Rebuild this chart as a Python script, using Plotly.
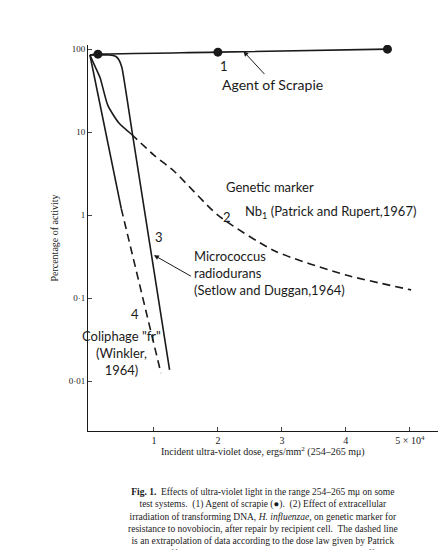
import math
import plotly.graph_objects as go

# curve 1: agent of scrapie
scrapie_x = [0, 0.125, 2.0, 4.65]
scrapie_y = [85, 87, 92, 100]
scrapie_pts_x = [0.125, 2.0, 4.65]
scrapie_pts_y = [87, 92, 100]

# curve 2: genetic marker (solid data, dashed extrapolation)
marker_x = [0, 0.08, 0.16, 0.28, 0.45, 0.645]
marker_y = [85, 62, 45, 21, 13, 9.5]
marker_ext_x = [0.645, 1.0, 1.32, 2.0, 2.89, 4.0, 5.02]
marker_ext_y = [9.5, 5.3, 3.36, 1.0, 0.37, 0.19, 0.126]

# curve 3: Micrococcus radiodurans
micro_x = [0, 0.3, 0.4, 0.45, 0.5, 0.66, 1.245]
micro_y = [85, 85, 82, 75, 60, 10, 0.0137]

# curve 4: coliphage fr
coli_x = [0, 0.49]
coli_y = [85, 1.2]
coli_ext_x = [0.49, 1.11]
coli_ext_y = [1.2, 0.0125]

tick_vals = [0.01, 0.1, 1, 10, 100]
tick_text = ["0·01", "0·1", "1", "10", "100"]
xtick_vals = [1, 2, 3, 4, 5]
xtick_text = ["1", "2", "3", "4", "5 × 10<sup>4</sup>"]

ink = "#1a1a1a"
hand = "Lato"
serif = "Liberation Serif"

fig = go.Figure()

def line(x, y, dash="solid"):
    fig.add_trace(go.Scatter(x=x, y=y, mode="lines",
                             line=dict(color=ink, width=1.6, dash=dash, shape="spline", smoothing=0.6)))

line(scrapie_x, scrapie_y)
fig.add_trace(go.Scatter(x=scrapie_pts_x, y=scrapie_pts_y, mode="markers", marker=dict(color=ink, size=9)))
line(marker_x, marker_y)
line(marker_ext_x, marker_ext_y, dash="8px,5px")
fig.add_trace(go.Scatter(x=micro_x, y=micro_y, mode="lines",
                         line=dict(color=ink, width=1.6, shape="spline", smoothing=0.4)))
line(coli_x, coli_y)
line(coli_ext_x, coli_ext_y, dash="8px,5px")

def label(x, y, text, size=13, **kw):
    fig.add_annotation(x=x, y=y, text=text, showarrow=False, xref="x", yref="y",
                       font=dict(family=hand, size=size, color=ink), **kw)

L = math.log10
label(2.1, L(62), "1")
label(2.85, L(38), "Agent of Scrapie", size=14)
fig.add_annotation(x=2.4, y=L(94), ax=2.75, ay=L(48), axref="x", ayref="y", xref="x", yref="y",
                   showarrow=True, arrowhead=2, arrowsize=1, arrowwidth=1, arrowcolor=ink, text="")
label(2.15, L(0.95), "2")
label(2.1, L(2.2), "Genetic marker", xanchor="left")
label(2.4, L(1.1), "Nb<sub>1</sub> (Patrick and Rupert,1967)", xanchor="left")
label(1.08, L(0.55), "3")
label(1.6, L(0.2), "Micrococcus<br>radiodurans<br>(Setlow and Duggan,1964)", xanchor="left", align="left")
fig.add_annotation(x=1.0, y=L(0.33), ax=1.6, ay=L(0.18), axref="x", ayref="y", xref="x", yref="y",
                   showarrow=True, arrowhead=2, arrowwidth=1, arrowcolor=ink, text="")
label(0.7, L(0.065), "4")
label(0.5, L(0.022), "Coliphage \"fr\"<br>(Winkler,<br>1964)", align="center")

fig.add_annotation(x=0.5, y=-0.075, xref="paper", yref="paper", showarrow=False,
                   text="Incident ultra-violet dose, ergs/mm<sup>2</sup> (254–265 mμ)",
                   font=dict(family=serif, size=10, color=ink))
caption = ("<b>Fig. 1.</b>  Effects of ultra-violet light in the range 254–265 mμ on some<br>"
           "test systems.  (1) Agent of scrapie (●).  (2) Effect of extracellular<br>"
           "irradiation of transforming DNA, <i>H. influenzae</i>, on genetic marker for<br>"
           "resistance to novobiocin, after repair by recipient cell.  The dashed line<br>"
           "is an extrapolation of data according to the dose law given by Patrick<br>"
           "and Rupert<sup>14</sup>.  (3) Survival curve, <i>M. radiodurans</i>, which has effective<br>"
           "intracellular repair mechanisms<sup>13</sup>.  (4) Inactivation of single-stranded<br>"
           "RNA coliphage \"fr\".  The dashed line is an extrapolation of Winkler's<br>"
           "data<sup>12</sup> according to the exponential dose law.")
fig.add_annotation(x=0.5, xref="paper", y=-0.14, yref="paper", showarrow=False, text=caption,
                   font=dict(family=serif, size=9.5, color=ink), align="center", yanchor="top")

fig.update_layout(
    width=448, height=550, showlegend=False,
    margin=dict(l=80, r=18, t=37, b=127),
    paper_bgcolor="white", plot_bgcolor="white",
    xaxis=dict(range=[-0.03, 5.44], tickvals=xtick_vals, ticktext=xtick_text, ticks="inside",
               ticklen=4, showline=True, linecolor=ink, linewidth=1, showgrid=False, zeroline=False,
               tickfont=dict(family=serif, size=10, color=ink)),
    yaxis=dict(type="log", range=[-2.6, 2.05], tickvals=tick_vals, ticktext=tick_text, ticks="inside",
               ticklen=4, showline=True, linecolor=ink, linewidth=1, showgrid=False,
               tickfont=dict(family=serif, size=9, color=ink),
               title=dict(text="Percentage of activity", font=dict(family=serif, size=10, color=ink), standoff=8)),
)

fig.write_html("out.html")
